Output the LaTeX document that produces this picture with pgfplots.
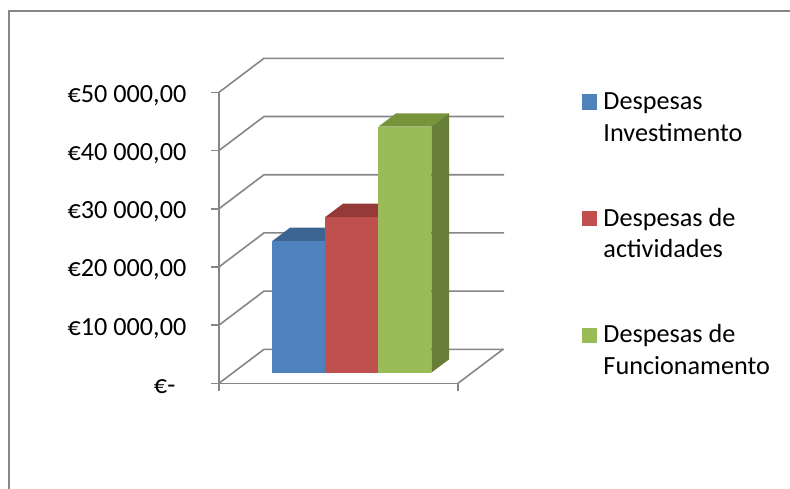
\documentclass[border=0pt]{standalone}
\usepackage{fontspec}
\setmainfont{Carlito}
\usepackage{pgfplots}
\pgfplotsset{compat=1.18}
\usepackage{pgfplotstable}
\definecolor{gridgray}{HTML}{868686}
\definecolor{blueF}{HTML}{4F81BD}
\definecolor{blueT}{HTML}{3D6594}
\definecolor{blueS}{HTML}{375C89}
\definecolor{redF}{HTML}{C0504D}
\definecolor{redT}{HTML}{953A38}
\definecolor{redS}{HTML}{86332F}
\definecolor{greenF}{HTML}{9BBB59}
\definecolor{greenT}{HTML}{77933C}
\definecolor{greenS}{HTML}{677E37}

% bar front-left position (px) and value (EUR)
\pgfplotstableread{
left value
272.3 22630
325.3 26750
378.3 42270
}\bardata

% depth: base offset 1821, bar depth dx=17.7, dy=2285 (value units)
\newcommand{\threedbar}[5]{%
  \edef\bxl{\fpeval{#1}}%
  \edef\bxr{\fpeval{#1+53}}%
  \edef\bxlb{\fpeval{#1+17.7}}%
  \edef\bxrb{\fpeval{#1+53+17.7}}%
  \edef\bbase{1821}%
  \edef\bbaseb{\fpeval{1821+2285}}%
  \edef\btop{\fpeval{1821+#2}}%
  \edef\btopb{\fpeval{1821+2285+#2}}%
  \addplot[fill=#3, draw=none, forget plot] coordinates {(\bxl,\bbase) (\bxr,\bbase) (\bxr,\btop) (\bxl,\btop)};
  \addplot[fill=#4, draw=none, forget plot] coordinates {(\bxl,\btop) (\bxr,\btop) (\bxrb,\btopb) (\bxlb,\btopb)};
  \addplot[fill=#5, draw=none, forget plot] coordinates {(\bxr,\bbase) (\bxrb,\bbaseb) (\bxrb,\btopb) (\bxr,\btop)};
}
\newcommand{\twolines}[2]{\vtop{\hbox{\strut #1}\hbox{\strut #2}}}

\begin{document}
\begin{tikzpicture}[font=\fontsize{26.2}{31.7}\selectfont]
\pgfplotstablegetelem{0}{left}\of\bardata \let\xA\pgfplotsretval
\pgfplotstablegetelem{0}{value}\of\bardata \let\vA\pgfplotsretval
\pgfplotstablegetelem{1}{left}\of\bardata \let\xB\pgfplotsretval
\pgfplotstablegetelem{1}{value}\of\bardata \let\vB\pgfplotsretval
\pgfplotstablegetelem{2}{left}\of\bardata \let\xC\pgfplotsretval
\pgfplotstablegetelem{2}{value}\of\bardata \let\vC\pgfplotsretval
\begin{axis}[
  scale only axis, width=239pt, height=291pt,
  xmin=219, xmax=458, ymin=0, ymax=50000,
  axis x line=bottom, axis y line=left,
  axis line style={-, draw=gridgray, line width=1.6pt},
  every outer x axis line/.append style={-},
  every outer y axis line/.append style={-},
  xtick={219,458}, xticklabels={},
  ytick={0,10000,20000,30000,40000,50000},
  scaled y ticks=false,
  yticklabels={{€-\rule{11pt}{0pt}},{€10 000,00},{€20 000,00},{€30 000,00},{€40 000,00},{€50 000,00}},
  tick align=outside, major tick length=7.5pt,
  tick style={draw=gridgray, line width=1.6pt},
  yticklabel style={anchor=base east, inner sep=0pt, xshift=-25pt, yshift=-10pt},
  clip=false,
  legend style={at={(1.5188,1.0175)}, anchor=north west, draw=none, fill=none,
    inner sep=0pt, outer sep=0pt, row sep=93pt, column sep=6.6pt,
    cells={anchor=base west}, nodes={inner sep=0pt, outer sep=0pt}},
]
% side wall diagonals and back wall gridlines
\pgfplotsinvokeforeach{0,10000,20000,30000,40000,50000}{
  \addplot[gridgray, line width=1.6pt, forget plot] coordinates {(219,#1) (264,{#1+5842}) (504,{#1+5842})};
}
% floor right edge
\addplot[gridgray, line width=1.6pt, forget plot] coordinates {(458,0) (503,5842)};
% bars
\threedbar{\xA}{\vA}{blueF}{blueT}{blueS}
\threedbar{\xB}{\vB}{redF}{redT}{redS}
\threedbar{\xC}{\vC}{greenF}{greenT}{greenS}
% legend
\addlegendimage{legend image code/.code={\fill[blueF] (0pt,0.6pt) rectangle (14.5pt,15pt);}}
\addlegendentry{\twolines{Despesas}{Investimento}}
\addlegendimage{legend image code/.code={\fill[redF] (0pt,0.6pt) rectangle (14.5pt,15pt);}}
\addlegendentry{\twolines{Despesas de}{actividades}}
\addlegendimage{legend image code/.code={\fill[greenF] (0pt,0.6pt) rectangle (14.5pt,15pt);}}
\addlegendentry{\twolines{Despesas de}{Funcionamento}}
\end{axis}
\draw[gridgray, line width=1.5pt] (-210pt,-120pt) -- (-210pt,372.3pt) -- (590pt,372.3pt);
\pgfresetboundingbox
\useasboundingbox (-219pt,-104.7pt) rectangle (571pt,383.3pt);
\end{tikzpicture}
\end{document}
